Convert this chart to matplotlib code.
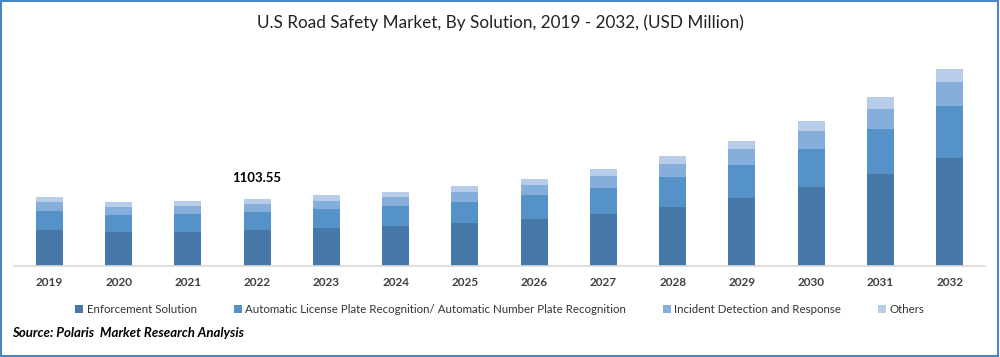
import matplotlib
matplotlib.use("Agg")
import matplotlib.pyplot as plt
import numpy as np
from matplotlib.patches import Rectangle

plt.rcParams["font.family"] = ["Lato", "DejaVu Sans"]

years = ["2019", "2020", "2021", "2022", "2023", "2024", "2025",
         "2026", "2027", "2028", "2029", "2030", "2031", "2032"]
enforcement = [593, 560, 560, 593.2, 626, 659, 708, 774, 856, 972, 1120, 1301, 1515, 1779]
alpr = [313, 280, 296, 296.5, 313, 329, 346, 395, 428, 494, 544, 626, 741, 856]
incident = [148, 132, 132, 131.8, 132, 148, 165, 165, 198, 214, 264, 296, 329, 395]
others = [82, 82, 82, 82.05, 99, 82, 99, 99, 115, 132, 132, 165, 198, 214]
series_names = ["Enforcement Solution",
                "Automatic License Plate Recognition/ Automatic Number Plate Recognition",
                "Incident Detection and Response", "Others"]
colors = ["#4679a7", "#5492c7", "#86aedb", "#b7cce9"]
label_year = "2022"

fig = plt.figure(figsize=(10, 3.57), dpi=100)
ax = fig.add_axes([0.014, 0.255, 0.971, 0.633])

x = np.arange(len(years))
bottom = np.zeros(len(years))
for vals, name, c in zip([enforcement, alpr, incident, others], series_names, colors):
    ax.bar(x, vals, width=0.39, bottom=bottom, color=c, label=name)
    bottom += np.array(vals)

i = years.index(label_year)
ax.annotate(f"{bottom[i]:.2f}", xy=(x[i], bottom[i]), xytext=(0, 11),
            textcoords="offset points", ha="center", va="bottom",
            fontsize=9.5, fontweight="bold", color="black")

ax.set_xlim(-0.51, 13.51)
ax.set_ylim(0, 3722)
ax.set_xticks(x)
ax.set_xticklabels(years, fontsize=8.5, color="#404040", fontweight="bold")
ax.tick_params(axis="x", length=0, pad=8)
ax.set_yticks([])
for s in ["top", "right", "left"]:
    ax.spines[s].set_visible(False)
ax.spines["bottom"].set_color("#d9d9d9")
ax.spines["bottom"].set_linewidth(1.2)

fig.text(0.5, 0.937, "U.S Road Safety Market, By Solution, 2019 - 2032, (USD Million)",
         ha="center", va="center", fontsize=12.3, color="#222222")

fig.legend(loc="center", bbox_to_anchor=(0.5, 0.133), ncol=4, frameon=False,
           fontsize=8.3, handlelength=0.7, handleheight=0.7, handletextpad=0.3,
           columnspacing=3.2, labelcolor="#333333")

fig.text(0.012, 0.067, "Source: Polaris  Market Research Analysis", ha="left", va="center",
         fontsize=9.5, fontweight="bold", fontstyle="italic", color="black")

fig.patches.append(Rectangle((0.001, 0.002), 0.997, 0.995, transform=fig.transFigure,
                             fill=False, edgecolor="#4a86c5", linewidth=1.5))

fig.savefig("out.png", dpi=100)
